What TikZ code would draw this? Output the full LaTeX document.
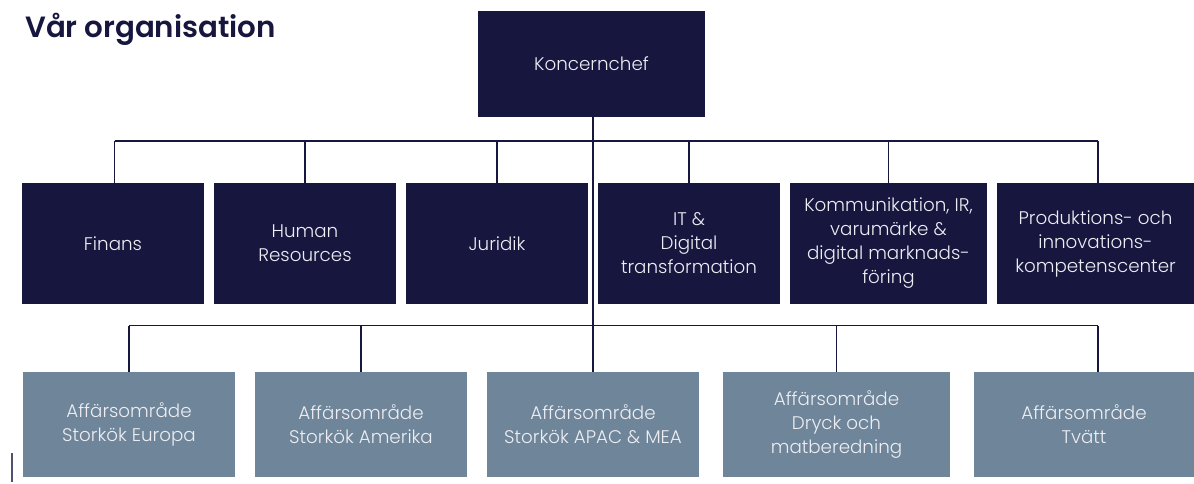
\documentclass[tikz,border=0pt]{standalone}
\usepackage{fontspec}
\setmainfont{Poppins}
\newfontfamily\lightfont{Poppins Light}
\newfontfamily\titlefont{Poppins SemiBold}
\definecolor{navy}{HTML}{16163F}
\definecolor{slate}{HTML}{6F869A}
\definecolor{txt}{HTML}{EDEDF3}
\tikzset{
  unit/.style={anchor=north west, inner sep=0pt, outer sep=0pt, align=center,
    text=txt, font=\lightfont\fontsize{18.3}{24}\selectfont},
  darkbox/.style={unit, fill=navy},
  lightbox/.style={unit, fill=slate},
  link/.style={draw=navy, line width=1.3pt},
}
\begin{document}
\begin{tikzpicture}[x=1pt,y=-1pt]
\useasboundingbox (0,0) rectangle (1194,483);
\node[anchor=base west, inner sep=0pt, text=navy,
  font=\titlefont\fontsize{29.3}{30}\selectfont] (title) at (25,37) {Vår organisation};

\node[darkbox, minimum width=227pt, minimum height=106pt] (k) at (478,11) {Koncernchef};

\node[darkbox, minimum width=182pt, minimum height=121pt] (m1) at (22,183) {Finans};
\node[darkbox, minimum width=182pt, minimum height=121pt] (m2) at (214,183) {Human\\Resources};
\node[darkbox, minimum width=182pt, minimum height=121pt] (m3) at (406,183) {Juridik};
\node[darkbox, minimum width=182pt, minimum height=121pt] (m4) at (598,183) {IT \&\\Digital\\transformation};
\node[darkbox, minimum width=197pt, minimum height=121pt] (m5) at (790,183) {Kommunikation, IR,\\varumärke \&\\digital marknads-\\föring};
\node[darkbox, minimum width=197pt, minimum height=121pt] (m6) at (997,183) {Produktions- och\\innovations-\\kompetenscenter};

\node[lightbox, minimum width=212pt, minimum height=105pt] (b1) at (23,372) {Affärsområde\\Storkök Europa};
\node[lightbox, minimum width=212pt, minimum height=105pt] (b2) at (255,372) {Affärsområde\\Storkök Amerika};
\node[lightbox, minimum width=212pt, minimum height=105pt] (b3) at (487,372) {Affärsområde\\Storkök APAC \& MEA};
\node[lightbox, minimum width=227pt, minimum height=105pt] (b4) at (723,372) {Affärsområde\\Dryck och\\matberedning};
\node[lightbox, minimum width=220pt, minimum height=105pt] (b5) at (974,372) {Affärsområde\\Tvätt};

% buses
\coordinate (ua) at (114.5,141);
\coordinate (uf) at (1098,141);
\coordinate (la) at (129,325.7);
\coordinate (lf) at (1098,325.7);

\draw[link] (b3.north) -- (b3.north |- k.south);
\draw[link] (ua) -- (uf);
\draw[link] (ua) -- (ua |- m1.north);
\draw[link] (m2.north) -- (m2.north |- ua);
\draw[link] (m3.north) -- (m3.north |- ua);
\draw[link] (m4.north) -- (m4.north |- ua);
\draw[link] (m5.north) -- (m5.north |- ua);
\draw[link] (uf) -- (uf |- m6.north);

\draw[link] (la) -- (lf);
\draw[link] (b1.north) -- (b1.north |- la);
\draw[link] (b2.north) -- (b2.north |- la);
\draw[link] (b4.north) -- (b4.north |- la);
\draw[link] (lf) -- (lf |- b5.north);

% small mark at bottom left
\coordinate (s1) at (12.3,453);
\coordinate (s2) at (12.3,482);
\draw[draw=navy!75, line width=2pt] (s1) -- (s2);
\end{tikzpicture}
\end{document}
